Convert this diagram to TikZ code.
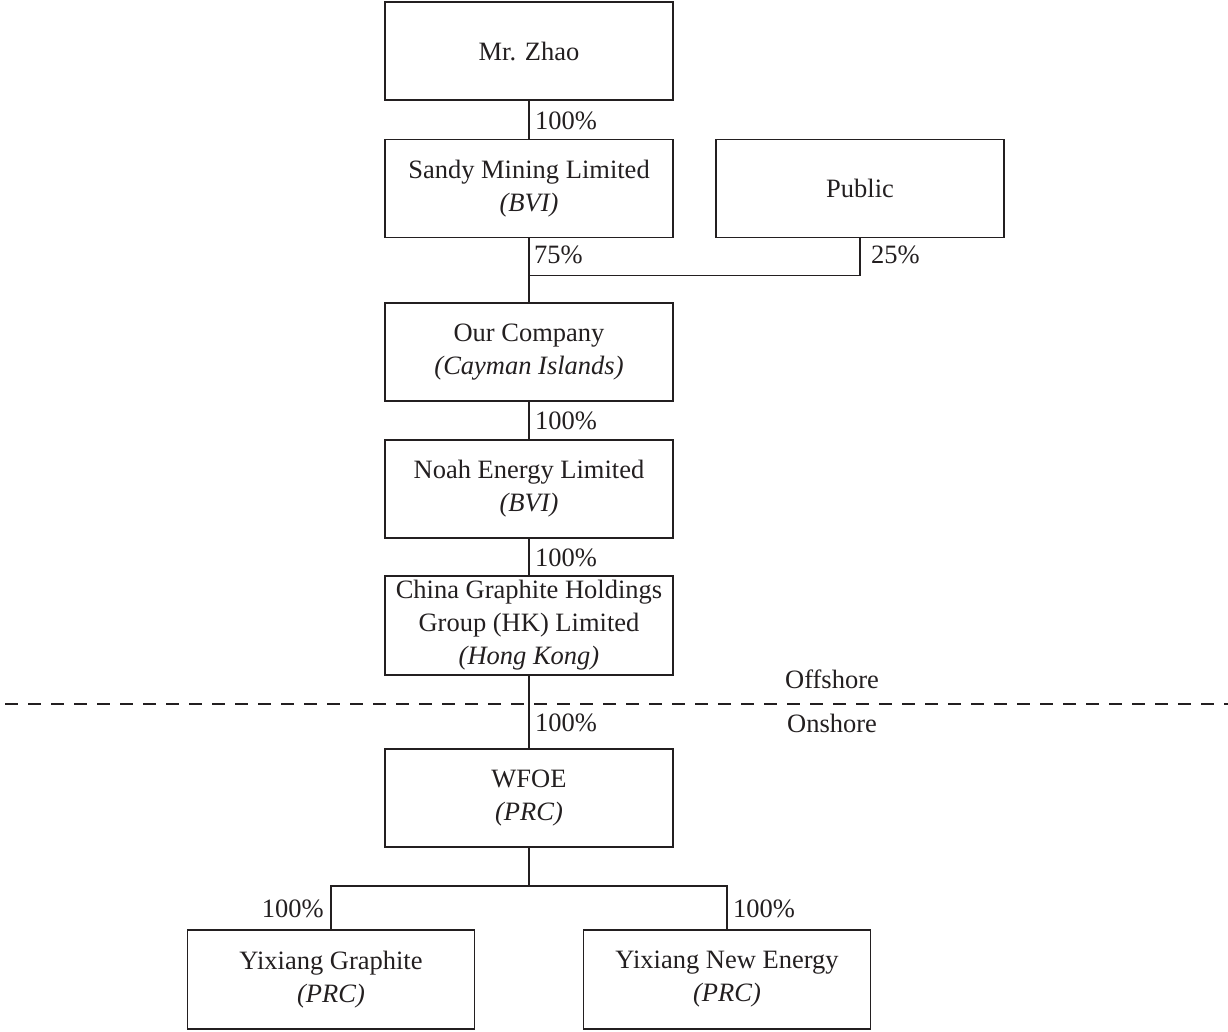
\documentclass[tikz,border=0pt]{standalone}
\usepackage{fontspec}
\setmainfont{Liberation Serif}
\definecolor{ink}{RGB}{35,31,32}
\tikzset{
  entity/.style={draw=ink, line width=1.4pt, minimum width=288pt, minimum height=98pt, inner sep=0pt, align=center, text=ink},
  pct/.style={inner sep=0pt, text=ink},
  link/.style={draw=ink, line width=1.4pt},
  divider/.style={draw=ink, line width=1.2pt, dash pattern=on 13pt off 10pt, dash phase=-5pt},
}
\begin{document}
\begin{tikzpicture}[x=1pt,y=-1pt, font=\fontsize{26.5}{33}\selectfont]
\useasboundingbox (0,0) rectangle (1228,1031);
\node[entity] (zhao) at (529,51) {Mr. Zhao};
\node[entity] (sandy) at (529,188.5) {Sandy Mining Limited\\\textit{(BVI)}};
\node[entity] (public) at (860,188.5) {Public};
\node[entity] (company) at (529,352) {Our Company\\\textit{(Cayman Islands)}};
\node[entity] (noah) at (529,489) {Noah Energy Limited\\\textit{(BVI)}};
\node[entity, minimum height=99pt] (china) at (529,625.5) {China Graphite Holdings\\Group (HK) Limited\\\textit{(Hong Kong)}};
\node[entity] (wfoe) at (529,798) {WFOE\\\textit{(PRC)}};
\node[entity, minimum width=287pt, minimum height=99pt] (yg) at (331,979.5) {Yixiang Graphite\\\textit{(PRC)}};
\node[entity, minimum width=287pt, minimum height=99pt] (yn) at (727,979.5) {Yixiang New Energy\\\textit{(PRC)}};

\coordinate (j) at (529,275.5);
\coordinate (k) at (529,886);
\draw[link] (zhao.south) -- (sandy.north);
\draw[link] (sandy.south) -- (company.north);
\draw[link] (public.south) |- (j);
\draw[link] (company.south) -- (noah.north);
\draw[link] (noah.south) -- (china.north);
\draw[link] (china.south) -- (wfoe.north);
\draw[link] (wfoe.south) -- (k);
\draw[link] (yg.north) |- (k) -| (yn.north);

\coordinate (dl) at (0,704);
\coordinate (dr) at (1228,704);
\draw[divider] (dl) -- (dr);

\node[pct, anchor=west] (p1) at (535,121) {100\%};
\node[pct, anchor=west] (p2) at (534,255) {75\%};
\node[pct, anchor=west] (p3) at (871,255) {25\%};
\node[pct, anchor=west] (p4) at (535,421) {100\%};
\node[pct, anchor=west] (p5) at (535,558) {100\%};
\node[pct, anchor=west] (p6) at (535,723) {100\%};
\node[pct, anchor=east] (p7) at (324,909) {100\%};
\node[pct, anchor=west] (p8) at (733,909) {100\%};
\node[pct] (off) at (832,679) {Offshore};
\node[pct] (on) at (832,723) {Onshore};
\end{tikzpicture}
\end{document}
